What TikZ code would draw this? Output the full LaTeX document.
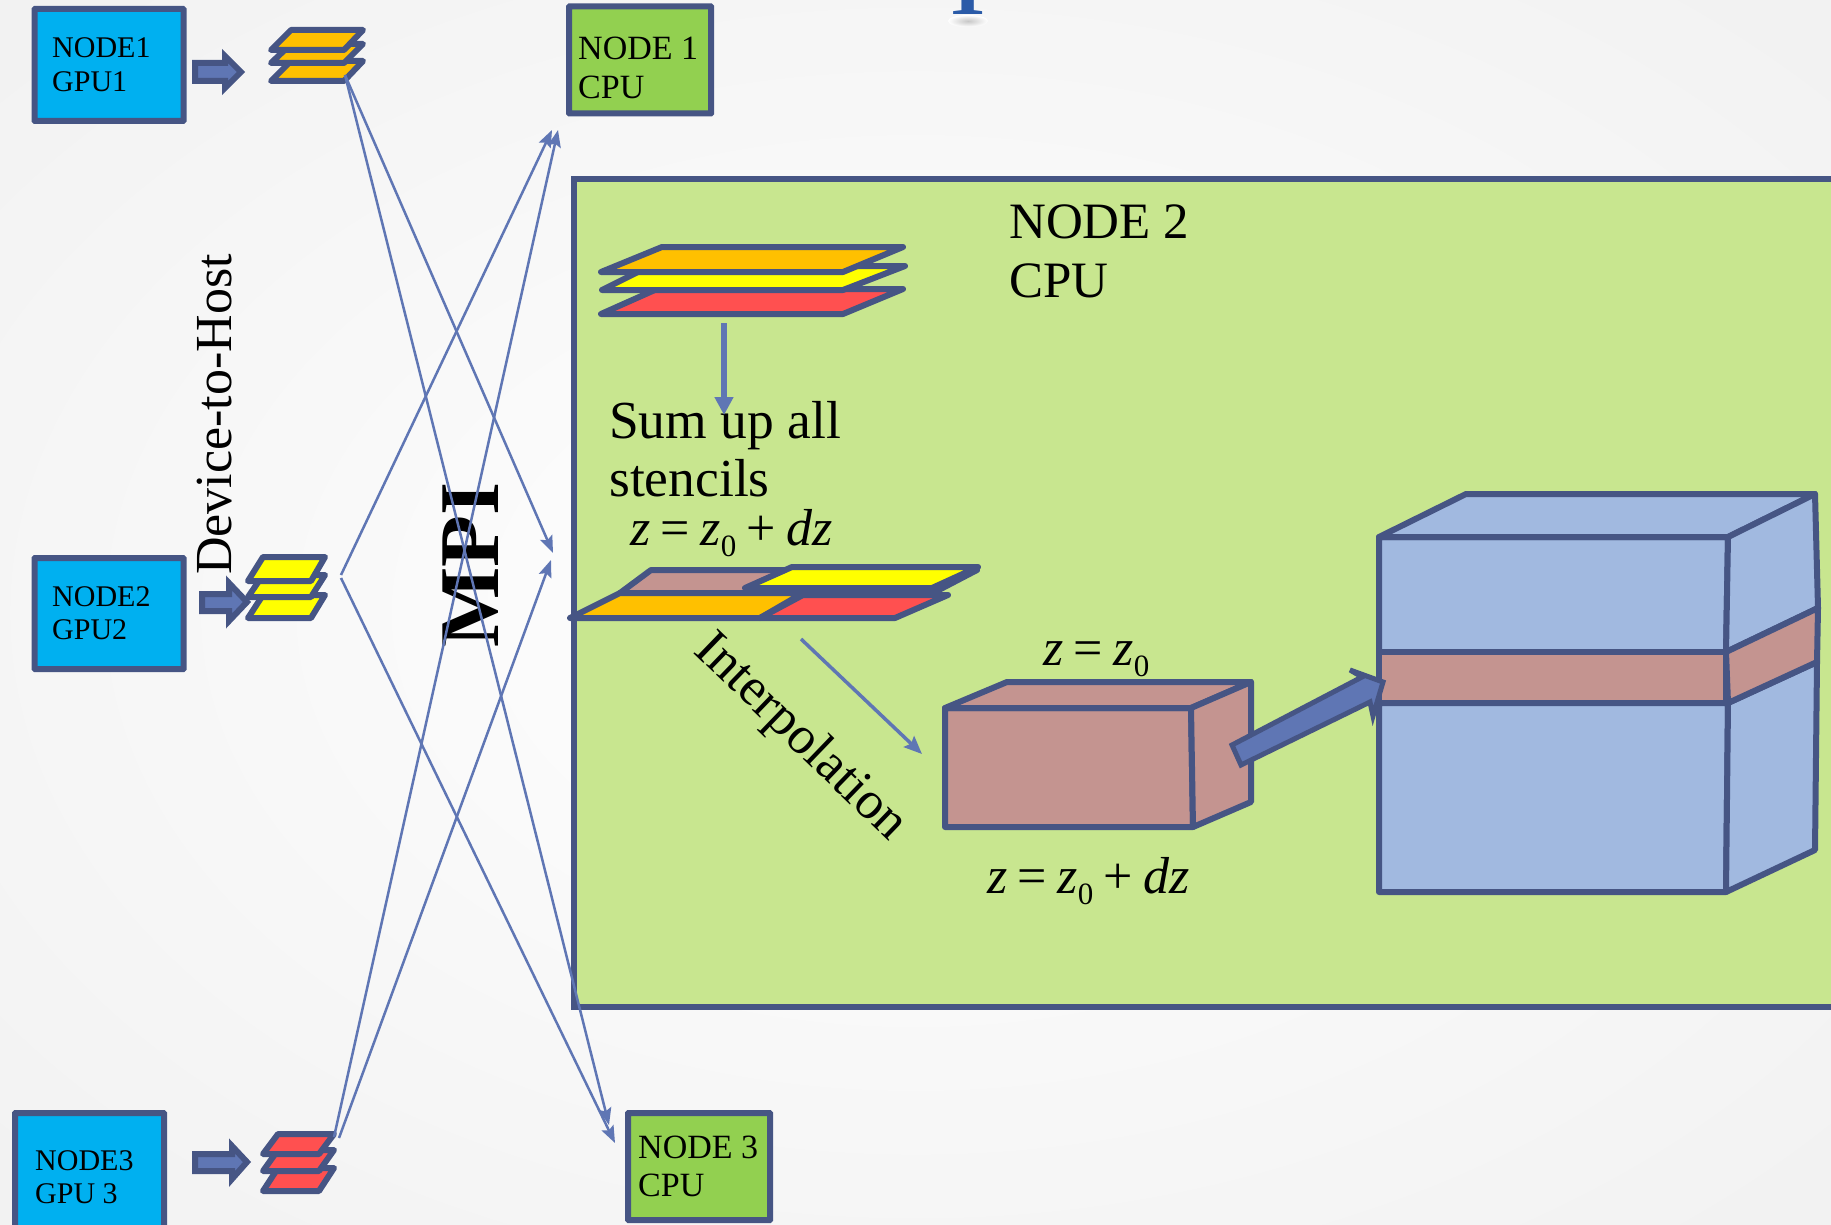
\documentclass[tikz,border=0pt]{standalone}
\usepackage{fontspec}
\setmainfont{Liberation Serif}
\usetikzlibrary{arrows.meta}
\definecolor{edgec}{HTML}{465584}
\definecolor{arrc}{HTML}{5F76B4}
\definecolor{gpub}{HTML}{00B0F0}
\definecolor{cpug}{HTML}{92D050}
\definecolor{lgreen}{HTML}{C8E68F}
\definecolor{brownc}{HTML}{C49490}
\definecolor{bluec}{HTML}{A1B9E0}
\definecolor{orangec}{HTML}{FFC000}
\definecolor{yellowc}{HTML}{FFFF00}
\definecolor{redc}{HTML}{FF5050}
\definecolor{titlec}{HTML}{2B5BA8}
\tikzset{
 boxnode/.style={draw=edgec,line width=6pt,inner sep=0pt,anchor=north west,rounded corners=0.5pt},
 gpu/.style={boxnode,fill=gpub},
 cpu/.style={boxnode,fill=cpug},
 lab/.style={anchor=base west,inner sep=0pt,text=black},
 layer/.style={draw=edgec,line width=6pt,line join=round,line cap=round},
 solid3d/.style={draw=edgec,line width=6pt,line join=round,line cap=round},
 fat/.style={draw=edgec,fill=arrc,line width=6pt,line join=miter},
 conn/.style={draw=arrc,line width=2.5pt,-{Stealth[length=17pt,width=13pt,inset=3pt]}},
}
\newcommand{\fs}[1]{\fontsize{#1}{#1}\selectfont}
\newcommand{\zsub}{\raisebox{-0.22em}{\upshape\fontsize{31}{31}\selectfont 0}}
\newcommand{\eqgap}{\hspace{0.2em}}
\newcommand{\zfull}{\fontsize{52}{52}\selectfont\itshape z\eqgap{\upshape =}\eqgap z\zsub\eqgap{\upshape +}\eqgap dz}
\newcommand{\zshort}{\fontsize{52}{52}\selectfont\itshape z\eqgap{\upshape =}\eqgap z\zsub}
\begin{document}
\begin{tikzpicture}[x=1pt,y=-1pt]
\useasboundingbox (0,0) rectangle (1831,1225);
\clip (0,0) rectangle (1831,1225);
\shade[inner color=white,outer color=black!5] (-300,-200) rectangle (2131,1425);
% cut-off heading letter
\shade[inner color=black!22,outer color=white] (968,21) ellipse (20pt and 6pt);
\node[anchor=base,inner sep=0pt,text=titlec] (head) at (968,15) {\fs{80}\bfseries T};
% boxes
\draw[boxnode,fill=lgreen,rounded corners=0pt] (574,179) rectangle (1845,1007);
\node[gpu,minimum width=149pt,minimum height=112pt] (g1) at (31.5,6) {};
\node[gpu,minimum width=149pt,minimum height=111pt] (g2) at (31.5,555) {};
\node[gpu,minimum width=149pt,minimum height=125pt] (g3) at (12,1110) {};
\node[cpu,minimum width=142pt,minimum height=107pt] (c1) at (566,3.5) {};
\node[cpu,minimum width=142pt,minimum height=107pt] (c3) at (625,1110) {};
\node[lab] (t1) at (52,58) {\fs{30}NODE1};
\node[lab] (t1b) at (52,92) {\fs{30}GPU1};
\node[lab] (t2) at (52,606) {\fs{30}NODE2};
\node[lab] (t2b) at (52,639) {\fs{30}GPU2};
\node[lab] (t3) at (35,1170) {\fs{30}NODE3};
\node[lab] (t3b) at (35,1203) {\fs{30}GPU 3};
\node[lab] (t4) at (578,60) {\fs{34}NODE 1};
\node[lab] (t4b) at (578,99) {\fs{34}CPU};
\node[lab] (t5) at (638,1158) {\fs{34}NODE 3};
\node[lab] (t5b) at (638,1196) {\fs{34}CPU};
\node[lab] (t6) at (1009,239) {\fs{51}NODE 2};
\node[lab] (t6b) at (1009,297) {\fs{51}CPU};
% fat arrows
\draw[fat] (195,63) -- (225,63) -- (225,56) -- (241,72) -- (225,88) -- (225,81) -- (195,81) -- cycle;
\draw[fat] (202,594) -- (229,594) -- (229,583) -- (247,602) -- (229,621) -- (229,611) -- (202,611) -- cycle;
\draw[fat] (195,1154) -- (232,1154) -- (232,1146) -- (247,1162) -- (232,1179) -- (232,1171) -- (195,1171) -- cycle;
% small stacks
\foreach \a/\b in {61/81,44/63,30/50}
  \draw[layer,fill=orangec] (291,\a) -- (363,\a) -- (344,\b) -- (271,\b) -- cycle;
\foreach \a/\b in {595/618,575/597,557/581}
  \draw[layer,fill=yellowc] (263,\a) -- (325,\a) -- (311,\b) -- (248,\b) -- cycle;
\foreach \a/\b in {1168/1191,1150/1171,1134/1154}
  \draw[layer,fill=redc] (278,\a) -- (334,\a) -- (319,\b) -- (263,\b) -- cycle;
% big stack
\draw[layer,fill=redc] (657,289) -- (903,289) -- (843,314) -- (601,314) -- cycle;
\draw[layer,fill=yellowc] (650,266) -- (905,266) -- (843,290) -- (602,290) -- cycle;
\draw[layer,fill=orangec] (662,247) -- (903,247) -- (843,272) -- (601,272) -- cycle;
% stencil sum
\draw[layer,fill=brownc] (651,570) -- (977,570) -- (933,593) -- (620,593) -- cycle;
\draw[layer,fill=orangec] (620,593) -- (803,593) -- (760,618) -- (570,618) -- cycle;
\draw[layer,fill=redc] (803,595) -- (948,595) -- (895,618) -- (760,618) -- cycle;
\draw[layer,fill=yellowc] (792,567) -- (978,567) -- (932,588) -- (745,588) -- cycle;
% small cube
\draw[solid3d,fill=brownc] (945,708) -- (1191,708) -- (1193,827) -- (945,827) -- cycle;
\draw[solid3d,fill=brownc] (945,708) -- (1007,682) -- (1251,682) -- (1191,708) -- cycle;
\draw[solid3d,fill=brownc] (1191,708) -- (1251,682) -- (1251,802) -- (1193,827) -- cycle;
% large cube
\draw[solid3d,fill=bluec] (1379,537) -- (1728,537) -- (1726,652) -- (1379,652) -- cycle;
\draw[solid3d,fill=bluec] (1379,537) -- (1466,494) -- (1815,494) -- (1728,537) -- cycle;
\draw[solid3d,fill=bluec] (1728,537) -- (1815,494) -- (1818,608) -- (1726,652) -- cycle;
\draw[solid3d,fill=bluec] (1379,703) -- (1728,703) -- (1726,892) -- (1379,892) -- cycle;
\draw[solid3d,fill=bluec] (1728,703) -- (1817,662) -- (1815,850) -- (1726,892) -- cycle;
\draw[solid3d,fill=brownc] (1379,652) -- (1726,652) -- (1726,703) -- (1379,703) -- cycle;
\draw[solid3d,fill=brownc] (1726,652) -- (1818,608) -- (1817,662) -- (1728,703) -- cycle;
% big arrow
\draw[fat,line width=5pt] (1232,745) -- (1362,677) -- (1350,670) -- (1383,682) -- (1373,716) -- (1370,702) -- (1241,765) -- cycle;
% text
\node[lab,rotate=90] (dev) at (231,575) {\fs{52}Device-to-Host};
\node[lab,rotate=90] (mpi) at (498,648) {\fs{85}\bfseries MPI};
\node[lab] (sum1) at (609,438) {\fs{53.5}Sum up all};
\node[lab] (sum2) at (609,496) {\fs{53.5}stencils};
\node[lab] (m1) at (630,545) {\zfull};
\node[lab] (m2) at (1043,665) {\zshort};
\node[lab] (m3) at (987,893) {\zfull};
\node[rotate=-44,inner sep=0pt,text=black] (interp) at (800,738) {\fs{53}Interpolation};
% anchors for connectors
\coordinate (s1) at (345,75);
\coordinate (s2a) at (341,575);
\coordinate (s2b) at (341,578);
\coordinate (s3a) at (334,1137);
\coordinate (s3b) at (339,1138);
\coordinate (in1a) at (552,130);
\coordinate (in1b) at (558,130);
\coordinate (in2a) at (553,553);
\coordinate (in2b) at (551,560);
\coordinate (in3a) at (609,1125);
\coordinate (in3b) at (615,1143);
\draw[conn] (s1) -- (in2a);
\draw[conn] (s1) -- (in3a);
\draw[conn] (s2a) -- (in1a);
\draw[conn] (s2b) -- (in3b);
\draw[conn] (s3a) -- (in1b);
\draw[conn] (s3b) -- (in2b);
\coordinate (v1) at (724,323);
\coordinate (v2) at (724,415);
\draw[draw=arrc,line width=5.5pt,-{Triangle[length=18pt,width=18pt]}] (v1) -- (v2);
\coordinate (i1) at (801,639);
\coordinate (i2) at (922,754);
\draw[draw=arrc,line width=3.5pt,-{Stealth[length=18pt,width=15pt,inset=3pt]}] (i1) -- (i2);
\end{tikzpicture}
\end{document}
